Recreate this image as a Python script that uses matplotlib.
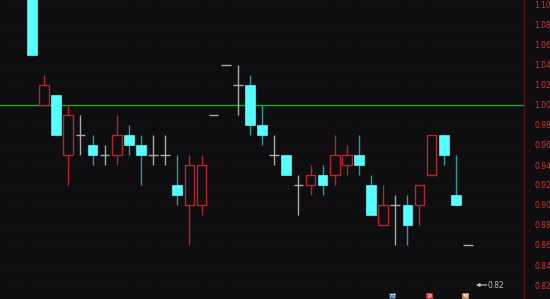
import matplotlib
matplotlib.use("Agg")
import matplotlib.pyplot as plt
import numpy as np

plt.rcParams['font.family'] = ['Noto Sans CJK SC', 'DejaVu Sans']

# OHLC data
opens  = [1.12, 1.00, 1.01, 0.95, 0.97, 0.96, 0.95, 0.95, 0.97, 0.96, 0.95, 0.95, 0.92, 0.90, 0.90,
          0.99, 1.04, 1.02, 1.02, 0.98, 0.95, 0.95, 0.92, 0.92, 0.93, 0.93, 0.94, 0.95, 0.92, 0.88,
          0.90, 0.90, 0.90, 0.93, 0.97, 0.91, 0.86]
closes = [1.05, 1.02, 0.97, 0.99, 0.97, 0.95, 0.95, 0.97, 0.96, 0.95, 0.95, 0.95, 0.91, 0.94, 0.94,
          0.99, 1.04, 1.02, 0.98, 0.97, 0.95, 0.93, 0.92, 0.93, 0.92, 0.95, 0.95, 0.94, 0.89, 0.90,
          0.90, 0.88, 0.92, 0.97, 0.95, 0.90, 0.86]
highs  = [1.12, 1.03, 1.01, 1.00, 0.99, 0.97, 0.96, 0.99, 0.98, 0.97, 0.97, 0.97, 0.95, 0.95, 0.95,
          0.99, 1.04, 1.04, 1.03, 1.00, 0.97, 0.95, 0.93, 0.94, 0.94, 0.97, 0.96, 0.97, 0.93, 0.92,
          0.91, 0.91, 0.92, 0.97, 0.97, 0.95, 0.86]
lows   = [1.05, 1.00, 0.97, 0.92, 0.95, 0.94, 0.94, 0.94, 0.95, 0.92, 0.94, 0.94, 0.90, 0.86, 0.89,
          0.99, 1.04, 0.99, 0.97, 0.96, 0.94, 0.93, 0.89, 0.91, 0.91, 0.92, 0.93, 0.93, 0.89, 0.88,
          0.86, 0.86, 0.88, 0.93, 0.94, 0.90, 0.86]

ref_price = 1.00
last_marker = 0.82
tick_values = [0.82, 0.84, 0.86, 0.88, 0.90, 0.92, 0.94, 0.96, 0.98, 1.00, 1.02, 1.04, 1.06, 1.08, 1.10]
icon_labels = ["财", "涨", "预"]
icon_positions = [30, 33, 36]
icon_colors = ["#1d4e8a", "#a8262b", "#b8733a"]

BG = "#0e0d10"
UP = "#b0262b"
DOWN = "#55ffff"
DOWN_WICK = "#2a9a9c"
FLAT = "#a8a8a8"

fig = plt.figure(figsize=(5.5, 2.99), dpi=100, facecolor=BG)
ax = fig.add_axes([0, 0, 524/550, 1.0])
ax.set_facecolor(BG)

x = np.arange(len(opens))
w = 0.8
for i in x:
    o, c, h, l = opens[i], closes[i], highs[i], lows[i]
    if c > o:
        ax.vlines(i, c, h, color=UP, lw=1.0, zorder=2)
        ax.vlines(i, l, o, color=UP, lw=1.0, zorder=2)
        ax.bar(i, c - o, bottom=o, width=w, facecolor=BG, edgecolor=UP, lw=1.0, zorder=3)
    elif c < o:
        ax.vlines(i, l, h, color=DOWN_WICK, lw=1.0, zorder=2)
        ax.bar(i, o - c, bottom=c, width=w, facecolor=DOWN, edgecolor=DOWN, lw=0.5, zorder=3)
    else:
        if h > l:
            ax.vlines(i, l, h, color=FLAT, lw=1.0, zorder=2)
        ax.hlines(o, i - w/2, i + w/2, color=FLAT, lw=1.0, zorder=3)

# reference line
ax.axhline(ref_price, color="#22a822", lw=1.0, zorder=1)

# grid
for v in tick_values:
    ax.axhline(v, color="#3a1015", lw=0.5, ls=(0, (1, 3)), zorder=0)

ax.set_xlim(-2.64, 40.63)
ax.set_ylim(0.806, 1.105)

# last price marker
ax.annotate("", xy=(36.65, last_marker), xytext=(37.55, last_marker),
            arrowprops=dict(arrowstyle="-|>", color="#bbbbbb", lw=0.9, mutation_scale=5,
                            shrinkA=0, shrinkB=0))
ax.text(37.6, last_marker, "0.82", color="#bbbbbb", fontsize=5.5, va="center", ha="left",
        family=['DejaVu Sans'])

# bottom icons
for pos, lab, col in zip(icon_positions, icon_labels, icon_colors):
    ax.text(pos - 0.2, 0.8085, lab, color="white", fontsize=4, ha="center", va="center",
            bbox=dict(boxstyle="square,pad=0.15", facecolor=col, edgecolor="none"))

# axes styling
for s in ["top", "left", "bottom"]:
    ax.spines[s].set_visible(False)
ax.spines["right"].set_color("#5a1016")
ax.spines["right"].set_linewidth(1.0)
ax.set_xticks([])
ax.yaxis.tick_right()
ax.set_yticks(tick_values)
ax.set_yticklabels([f"{v:.2f}" for v in tick_values], family=['DejaVu Sans'])
ax.tick_params(axis="y", length=0, pad=7.5, labelsize=5.5, labelcolor="#c83236")

fig.savefig("out.png", dpi=100, facecolor=BG)
